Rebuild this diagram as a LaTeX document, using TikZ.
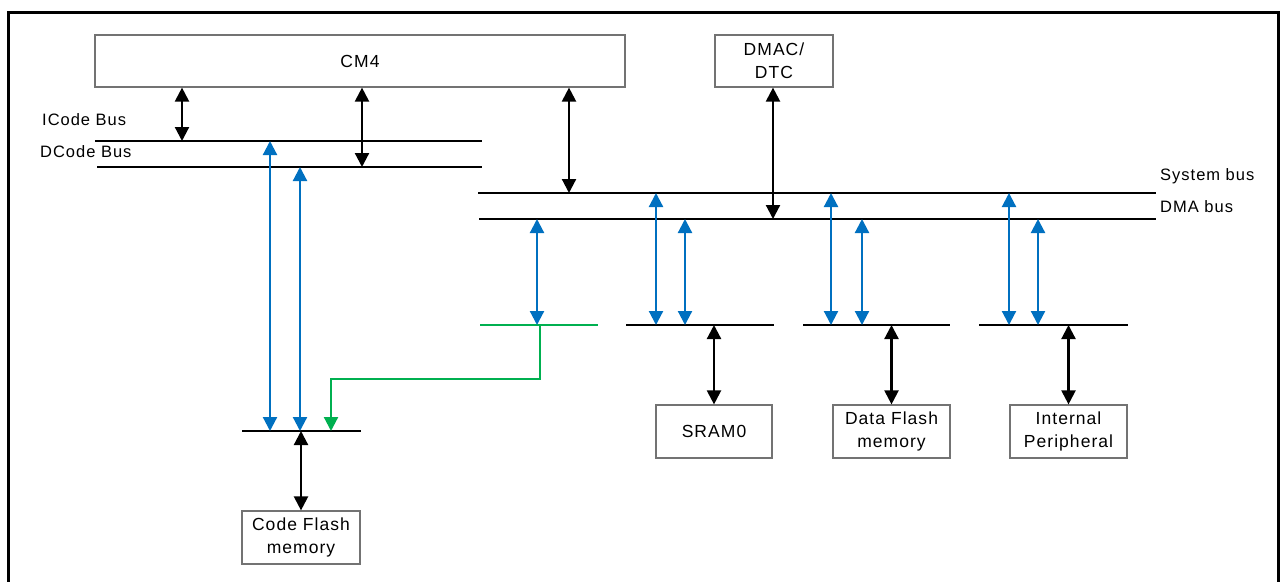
\documentclass[tikz,border=0pt]{standalone}
\usepackage{fontspec}
\setmainfont{Liberation Sans}[LetterSpace=6]
\usetikzlibrary{arrows.meta}
\definecolor{busblue}{HTML}{0070C0}
\definecolor{busgreen}{HTML}{00B050}
\tikzset{
  blk/.style={draw=black!55, line width=1.2pt, fill=white, inner sep=0pt, align=center, font=\fontsize{17.5}{23}\selectfont},
  busline/.style={line width=2.6pt, draw=black},
  gbusline/.style={line width=2.4pt, draw=busgreen},
  tip/.tip={Triangle[width=14pt,length=14pt]},
  barrow/.style={line width=2.2pt, draw=black, tip-tip},
  blarrow/.style={line width=2.2pt, draw=busblue, tip-tip},
  garrow/.style={line width=2.2pt, draw=busgreen, -tip},
  lbl/.style={anchor=west, inner sep=0pt, font=\fontsize{16.5}{18}\selectfont},
}
\begin{document}
\begin{tikzpicture}[x=1pt,y=-1pt]
\useasboundingbox (0,0) rectangle (1281,581);
% frame
\draw[line width=3pt] (8.5,590) -- (8.5,12.5) -- (1278.5,12.5) -- (1278.5,590);
% boxes
\node[blk, minimum width=530, minimum height=52] (cm4) at (360,61) {CM4};
\node[blk, minimum width=118, minimum height=52] (dmac) at (774,61) {DMAC/\\DTC};
\node[blk, minimum width=118, minimum height=53] (cflash) at (301,537.5) {Code Flash\\memory};
\node[blk, minimum width=116, minimum height=53] (sram) at (714,431.5) {SRAM0};
\node[blk, minimum width=117, minimum height=53] (dflash) at (891.5,431.5) {Data Flash\\memory};
\node[blk, minimum width=117, minimum height=53] (periph) at (1068.5,431.5) {Internal\\Peripheral};
% bus coordinates
\coordinate (ib0) at (95,141);  \coordinate (ib1) at (482,141);
\coordinate (db0) at (97,167);  \coordinate (db1) at (482,167);
\coordinate (sb0) at (478,193); \coordinate (sb1) at (1156,193);
\coordinate (mb0) at (479,219); \coordinate (mb1) at (1156,219);
\coordinate (cb0) at (242,431); \coordinate (cb1) at (361,431);
\coordinate (gb0) at (480,325); \coordinate (gb1) at (598,325);
\coordinate (s0) at (626,325);  \coordinate (s1) at (774,325);
\coordinate (d0) at (803,325);  \coordinate (d1) at (950,325);
\coordinate (p0) at (979,325);  \coordinate (p1) at (1128,325);
% bus lines
\draw[busline] (ib0) -- (ib1);
\draw[busline] (db0) -- (db1);
\draw[busline] (sb0) -- (sb1);
\draw[busline] (mb0) -- (mb1);
\draw[busline] (cb0) -- (cb1);
\draw[gbusline] (gb0) -- (gb1);
\draw[busline] (s0) -- (s1);
\draw[busline] (d0) -- (d1);
\draw[busline] (p0) -- (p1);
% labels
\node[lbl] (lic) at (42,119.5) {ICode Bus};
\node[lbl] (ldc) at (40,151.5) {DCode Bus};
\node[lbl] (lsb) at (1160,176) {System bus};
\node[lbl] (lmb) at (1160,207) {DMA bus};
% black arrows
\draw[barrow] (cm4.south -| 182,0) -- (ib0 -| 182,0);
\draw[barrow] (cm4.south -| 362,0) -- (db0 -| 362,0);
\draw[barrow] (cm4.south -| 569,0) -- (sb0 -| 569,0);
\draw[barrow] (dmac.south -| 773,0) -- (mb0 -| 773,0);
\draw[barrow] (cb0 -| cflash.north) -- (cflash.north);
\draw[barrow] (s0 -| sram.north) -- (sram.north);
\draw[barrow] (d0 -| dflash.north) -- (dflash.north);
\draw[barrow] (p0 -| periph.north) -- (periph.north);
% blue arrows
\draw[blarrow] (ib0 -| 270,0) -- (cb0 -| 270,0);
\draw[blarrow] (db0 -| 300,0) -- (cb0 -| 300,0);
\draw[blarrow] (mb0 -| 537,0) -- (gb0 -| 537,0);
\draw[blarrow] (sb0 -| 656,0) -- (s0 -| 656,0);
\draw[blarrow] (mb0 -| 685,0) -- (s0 -| 685,0);
\draw[blarrow] (sb0 -| 831,0) -- (d0 -| 831,0);
\draw[blarrow] (mb0 -| 862,0) -- (d0 -| 862,0);
\draw[blarrow] (sb0 -| 1009,0) -- (p0 -| 1009,0);
\draw[blarrow] (mb0 -| 1038,0) -- (p0 -| 1038,0);
% green path
\draw[garrow] (gb0 -| 540,0) -- (540,379) -- (331,379) -- (cb0 -| 331,0);
\end{tikzpicture}
\end{document}
